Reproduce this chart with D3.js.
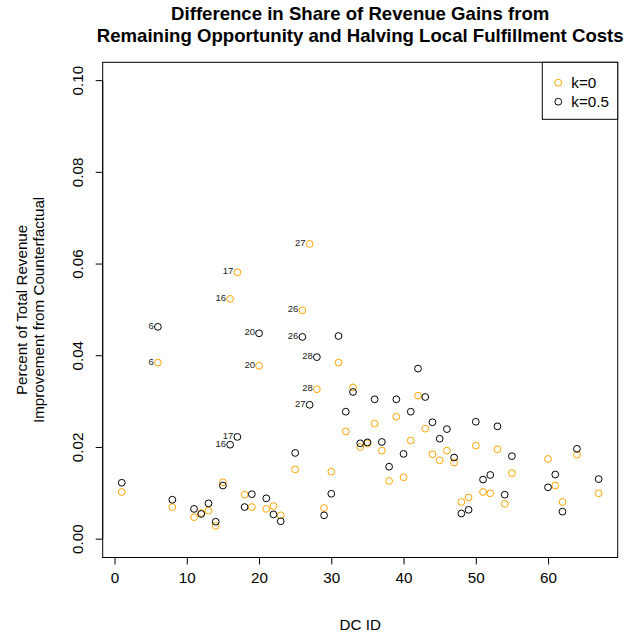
<!DOCTYPE html>
<html>
<head>
<meta charset="utf-8">
<script src="https://cdn.jsdelivr.net/npm/d3@7"></script>
<style>
  html, body { margin: 0; padding: 0; background: #fff; }
  svg { display: block; font-family: "Liberation Sans", Arial, Helvetica, sans-serif; }
</style>
</head>
<body>
<svg id="chart" width="627" height="638"></svg>
<script>
// DC identifiers and the revenue-improvement share for each scenario
const dcIds = [1, 6, 8, 11, 12, 13, 14, 15, 16, 17, 18, 19, 20, 21, 22, 23, 25, 26, 27, 28,
  29, 30, 31, 32, 33, 34, 35, 36, 37, 38, 39, 40, 41, 42, 43, 44, 45, 46, 47, 48, 49, 50,
  51, 52, 53, 54, 55, 60, 61, 62, 64, 67];

const k0Values = [0.0103, 0.0385, 0.0070, 0.0048, 0.0057, 0.0062, 0.0029, 0.0124, 0.0524, 0.0582,
  0.0097, 0.0070, 0.0378, 0.0066, 0.0072, 0.0052, 0.0152, 0.0499, 0.0644, 0.0327,
  0.0068, 0.0147, 0.0385, 0.0235, 0.0331, 0.0201, 0.0209, 0.0252, 0.0193, 0.0127,
  0.0267, 0.0135, 0.0215, 0.0313, 0.0241, 0.0185, 0.0172, 0.0193, 0.0167, 0.0081,
  0.0091, 0.0204, 0.0103, 0.0100, 0.0196, 0.0077, 0.0144, 0.0175, 0.0117, 0.0081,
  0.0184, 0.0100];

const k05Values = [0.0123, 0.0463, 0.0086, 0.0066, 0.0055, 0.0078, 0.0038, 0.0117, 0.0206, 0.0223,
  0.0070, 0.0098, 0.0449, 0.0089, 0.0054, 0.0039, 0.0188, 0.0441, 0.0293, 0.0397,
  0.0052, 0.0099, 0.0443, 0.0278, 0.0321, 0.0209, 0.0211, 0.0305, 0.0212, 0.0158,
  0.0305, 0.0186, 0.0278, 0.0372, 0.0310, 0.0255, 0.0219, 0.0240, 0.0178, 0.0056,
  0.0064, 0.0256, 0.0130, 0.0140, 0.0246, 0.0097, 0.0181, 0.0113, 0.0141, 0.0060,
  0.0197, 0.0131];

// DCs whose points carry an ID label
const labeledIds = [6, 16, 17, 20, 26, 27, 28];

const seriesNames = ["k=0", "k=0.5"];
const seriesColors = ["#FFA500", "#000000"];

const xTicks = [0, 10, 20, 30, 40, 50, 60];
const yTicks = [0, 0.02, 0.04, 0.06, 0.08, 0.10];

const titleLines = ["Difference in Share of Revenue Gains from",
  "Remaining Opportunity and Halving Local Fulfillment Costs"];
const xLabel = "DC ID";
const yLabelLines = ["Percent of Total Revenue", "Improvement from Counterfactual"];

// ---- layout ----
const plot = { left: 102.7, right: 617.7, top: 62.3, bottom: 557.5 };
const baseFont = 15.2;
const svg = d3.select("#chart");

// Domains padded by 4% on each side, like base-graphics defaults
const xMin = d3.min(dcIds), xMax = d3.max(dcIds);
const xPad = (xMax - xMin) * 0.04;
const x = d3.scaleLinear().domain([xMin - xPad, xMax + xPad]).range([plot.left, plot.right]);
const yPad = 0.1 * 0.04;
const y = d3.scaleLinear().domain([0 - yPad, 0.1 + yPad]).range([plot.bottom, plot.top]);

// Title
svg.append("g").selectAll("text").data(titleLines).join("text")
  .attr("x", (plot.left + plot.right) / 2)
  .attr("y", (d, i) => 20 + i * 21.5)
  .attr("text-anchor", "middle")
  .attr("font-weight", "bold")
  .attr("font-size", 18.6)
  .attr("fill", "#000")
  .text(d => d);

// Axes
const xAxis = d3.axisBottom(x).tickValues(xTicks).tickSize(7).tickPadding(8).tickFormat(d3.format("d"));
const gx = svg.append("g").attr("transform", `translate(0,${plot.bottom})`).call(xAxis);
gx.select(".domain").attr("d", `M${x(xTicks[0])},0H${x(xTicks[xTicks.length - 1])}`);
gx.selectAll("text").attr("font-size", baseFont).attr("font-family", null).attr("fill", "#000");
gx.selectAll("line, path").attr("stroke", "#000");

const yAxis = d3.axisLeft(y).tickValues(yTicks).tickSize(7).tickFormat(d3.format(".2f"));
const gy = svg.append("g").attr("transform", `translate(${plot.left},0)`).call(yAxis);
gy.select(".domain").attr("d", `M0,${y(yTicks[0])}V${y(yTicks[yTicks.length - 1])}`);
gy.selectAll("line, path").attr("stroke", "#000");
gy.selectAll("text")
  .attr("font-size", baseFont).attr("font-family", null).attr("fill", "#000")
  .attr("x", null).attr("dy", null)
  .attr("text-anchor", "middle")
  .attr("transform", d => `translate(-24,${y(d)}) rotate(-90)`)
  .attr("y", 0)
  .attr("dominant-baseline", "middle");
gy.selectAll(".tick").attr("transform", null);
gy.selectAll(".tick line").attr("transform", d => `translate(0,${y(d)})`);

// Plot frame
svg.append("rect")
  .attr("x", plot.left).attr("y", plot.top)
  .attr("width", plot.right - plot.left).attr("height", plot.bottom - plot.top)
  .attr("fill", "none").attr("stroke", "#000").attr("stroke-width", 1);

// Axis titles
svg.append("text")
  .attr("x", (plot.left + plot.right) / 2).attr("y", 630)
  .attr("text-anchor", "middle").attr("font-size", baseFont).attr("fill", "#000")
  .text(xLabel);

svg.append("g").selectAll("text").data(yLabelLines).join("text")
  .attr("transform", (d, i) => `translate(${27 + i * 16.5},${(plot.top + plot.bottom) / 2}) rotate(-90)`)
  .attr("text-anchor", "middle").attr("font-size", baseFont).attr("fill", "#000")
  .text(d => d);

// Points
const series = [k0Values, k05Values].map((vals, s) =>
  dcIds.map((id, i) => ({ id, value: vals[i], s })));

series.forEach((pts, s) => {
  svg.append("g").selectAll("circle").data(pts).join("circle")
    .attr("cx", d => x(d.id))
    .attr("cy", d => y(d.value))
    .attr("r", 3.4)
    .attr("fill", "none")
    .attr("stroke", seriesColors[s])
    .attr("stroke-width", 1);

  svg.append("g").selectAll("text")
    .data(pts.filter(d => labeledIds.includes(d.id))).join("text")
    .attr("x", d => x(d.id) - 4)
    .attr("y", d => y(d.value) + 2)
    .attr("text-anchor", "end")
    .attr("font-size", 9.5)
    .attr("fill", "#222")
    .text(d => d.id);
});

// Legend
const legend = { left: 542.3, top: plot.top, right: plot.right, bottom: 119.3 };
svg.append("rect")
  .attr("x", legend.left).attr("y", legend.top)
  .attr("width", legend.right - legend.left).attr("height", legend.bottom - legend.top)
  .attr("fill", "#fff").attr("stroke", "#000").attr("stroke-width", 1);

const lg = svg.append("g").selectAll("g").data(seriesNames).join("g")
  .attr("transform", (d, i) => `translate(${legend.left + 16},${82.7 + i * 19})`);
lg.append("circle").attr("r", 3.4).attr("fill", "none")
  .attr("stroke", (d, i) => seriesColors[i]).attr("stroke-width", 1);
lg.append("text").attr("x", 13).attr("dy", "0.35em")
  .attr("font-size", baseFont).attr("fill", "#000").text(d => d);
</script>
</body>
</html>
